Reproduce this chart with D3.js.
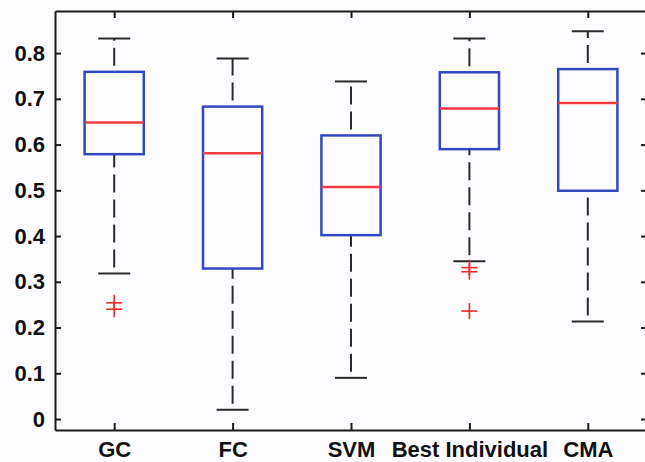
<!DOCTYPE html>
<html>
<head>
<meta charset="utf-8">
<script src="https://cdn.jsdelivr.net/npm/d3@7"></script>
<style>
  html, body { margin: 0; padding: 0; background: #fcfcfe; }
  svg { display: block; }
  text { font-family: "Liberation Sans", Arial, sans-serif; font-weight: bold; fill: #111; }
</style>
</head>
<body>
<svg id="chart" width="645" height="462"></svg>
<script>
const categories = ["GC", "FC", "SVM", "Best Individual", "CMA"];
const q1         = [0.579, 0.329, 0.402, 0.590, 0.499];
const medians    = [0.648, 0.581, 0.507, 0.679, 0.691];
const q3         = [0.759, 0.683, 0.620, 0.758, 0.765];
const whiskerLow = [0.318, 0.020, 0.090, 0.345, 0.213];
const whiskerHigh= [0.832, 0.788, 0.738, 0.832, 0.848];
const outliers   = [[0.254, 0.240], [], [], [0.331, 0.322, 0.236], []];
const yTicks     = [0, 0.1, 0.2, 0.3, 0.4, 0.5, 0.6, 0.7, 0.8];
const yTickLabels= ["0", "0.1", "0.2", "0.3", "0.4", "0.5", "0.6", "0.7", "0.8"];

const W = 645, H = 462;
const margin = { left: 55, top: 11, right: -2, bottom: 32 };
const svg = d3.select("#chart");

const x = d3.scaleLinear().domain([0.5, categories.length + 0.5])
  .range([margin.left, W - margin.right]);
const y = d3.scaleLinear().domain([-0.024, 0.892])
  .range([H - margin.bottom, margin.top]);

const data = categories.map((c, i) => ({
  c, pos: i + 1, q1: q1[i], med: medians[i], q3: q3[i],
  lo: whiskerLow[i], hi: whiskerHigh[i], out: outliers[i]
}));

const boxHalf = 0.25, capHalf = 0.135;
const axisColor = "#1a1a1a";

// axes
const gL = svg.append("g").attr("transform", `translate(${x(0.5)},0)`)
  .call(d3.axisLeft(y).tickValues(yTicks).tickFormat((d, i) => yTickLabels[i])
    .tickSizeInner(-6).tickSizeOuter(0).tickPadding(10));
const gR = svg.append("g").attr("transform", `translate(${x(categories.length + 0.5)},0)`)
  .call(d3.axisRight(y).tickValues(yTicks).tickFormat("")
    .tickSizeInner(-6).tickSizeOuter(0));
const gB = svg.append("g").attr("transform", `translate(0,${y.range()[0]})`)
  .call(d3.axisBottom(x).tickValues(data.map(d => d.pos)).tickFormat((d, i) => categories[i])
    .tickSizeInner(-7).tickSizeOuter(0).tickPadding(11));
const gT = svg.append("g").attr("transform", `translate(0,${y.range()[1]})`)
  .call(d3.axisTop(x).tickValues(data.map(d => d.pos)).tickFormat("")
    .tickSizeInner(-7).tickSizeOuter(0));

[gL, gR, gB, gT].forEach(g => {
  g.select(".domain").attr("stroke", axisColor).attr("stroke-width", 2);
  g.selectAll(".tick line").attr("stroke", axisColor).attr("stroke-width", 2);
  g.selectAll(".tick text").style("font-size", "22px").attr("fill", "#111")
    .style("font-family", "'Liberation Sans', Arial, sans-serif").style("font-weight", "bold");
});

const plot = svg.append("g");
const dashStyle = sel => sel.attr("stroke", "#2a2a2a").attr("stroke-width", 2)
  .attr("stroke-dasharray", "18,7").attr("stroke-dashoffset", 19).attr("fill", "none");

// whiskers (drawn in increasing-value direction)
plot.selectAll(".wlo").data(data).join("line")
  .attr("x1", d => x(d.pos)).attr("x2", d => x(d.pos))
  .attr("y1", d => y(d.lo)).attr("y2", d => y(d.q1)).call(dashStyle);
plot.selectAll(".whi").data(data).join("line")
  .attr("x1", d => x(d.pos)).attr("x2", d => x(d.pos))
  .attr("y1", d => y(d.q3)).attr("y2", d => y(d.hi)).call(dashStyle);

// caps
["lo", "hi"].forEach(k => {
  plot.selectAll(".cap-" + k).data(data).join("line")
    .attr("x1", d => x(d.pos - capHalf)).attr("x2", d => x(d.pos + capHalf))
    .attr("y1", d => y(d[k])).attr("y2", d => y(d[k]))
    .attr("stroke", "#2a2a2a").attr("stroke-width", 2);
});

// boxes
plot.selectAll(".box").data(data).join("rect")
  .attr("x", d => x(d.pos - boxHalf)).attr("width", d => x(d.pos + boxHalf) - x(d.pos - boxHalf))
  .attr("y", d => y(d.q3)).attr("height", d => y(d.q1) - y(d.q3))
  .attr("fill", "none").attr("stroke", "#3347c2").attr("stroke-width", 2.5);

// medians
plot.selectAll(".med").data(data).join("line")
  .attr("x1", d => x(d.pos - boxHalf)).attr("x2", d => x(d.pos + boxHalf))
  .attr("y1", d => y(d.med)).attr("y2", d => y(d.med))
  .attr("stroke", "#f03c3c").attr("stroke-width", 2.5);

// outliers
const outPts = data.flatMap(d => d.out.map(v => ({ pos: d.pos, v })));
const plus = d3.symbol().type(d3.symbolCross);
const pg = plot.selectAll(".out").data(outPts).join("g")
  .attr("transform", d => `translate(${x(d.pos)},${y(d.v)})`);
pg.append("line").attr("x1", -8).attr("x2", 8).attr("y1", 0).attr("y2", 0)
  .attr("stroke", "#f02a2a").attr("stroke-width", 1.6);
pg.append("line").attr("x1", 0).attr("x2", 0).attr("y1", -8).attr("y2", 8)
  .attr("stroke", "#f02a2a").attr("stroke-width", 1.6);
</script>
</body>
</html>
